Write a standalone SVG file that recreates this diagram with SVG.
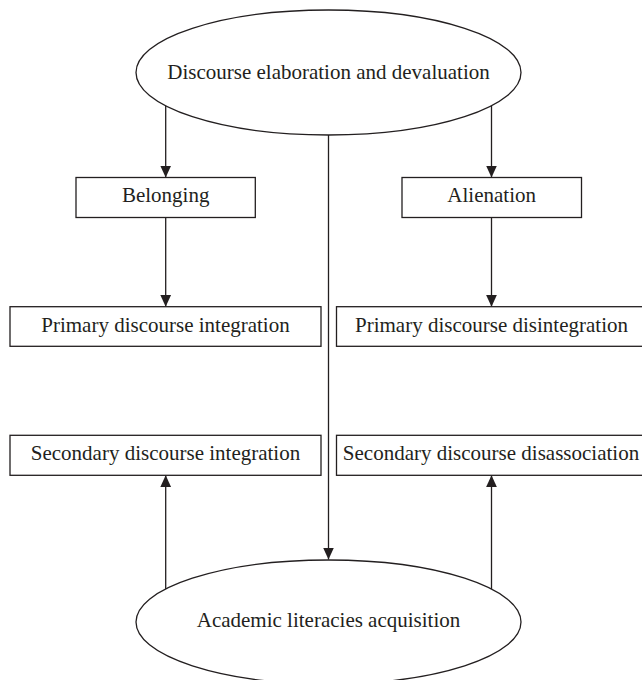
<svg xmlns="http://www.w3.org/2000/svg" width="642" height="680" viewBox="0 0 642 680">
<defs>
<style>
.shape{fill:#fff;stroke:#231f20;stroke-width:1.3}
.lbl{font-family:"Liberation Serif","Times New Roman",serif;font-size:21px;fill:#231f20;text-anchor:middle}
.conn{stroke:#231f20;stroke-width:1.3;fill:none}
</style>
<marker id="arr" viewBox="0 0 12 12" refX="12" refY="6" markerWidth="12" markerHeight="12" markerUnits="userSpaceOnUse" orient="auto">
<path d="M0,0.5 L12,6 L0,11.5 Z" fill="#231f20"/>
</marker>
</defs>
<rect width="642" height="680" fill="#fff"/>
<g id="connectors">
<line class="conn" x1="165.7" y1="105.5" x2="165.7" y2="177.5" marker-end="url(#arr)"/>
<line class="conn" x1="491.5" y1="105.5" x2="491.5" y2="177.5" marker-end="url(#arr)"/>
<line class="conn" x1="165.7" y1="217.5" x2="165.7" y2="306.7" marker-end="url(#arr)"/>
<line class="conn" x1="491.5" y1="217.5" x2="491.5" y2="306.7" marker-end="url(#arr)"/>
<line class="conn" x1="328.5" y1="135" x2="328.5" y2="559.5" marker-end="url(#arr)"/>
<line class="conn" x1="165.7" y1="589" x2="165.7" y2="475.3" marker-end="url(#arr)"/>
<line class="conn" x1="491.5" y1="589" x2="491.5" y2="475.3" marker-end="url(#arr)"/>
</g>
<g id="node-top">
<ellipse class="shape" cx="328.5" cy="72.5" rx="192.5" ry="62.5"/>
<text class="lbl" x="328.5" y="78.5">Discourse elaboration and devaluation</text>
</g>
<g id="node-belonging">
<rect class="shape" x="76" y="177.5" width="179.3" height="40"/>
<text class="lbl" x="165.7" y="202">Belonging</text>
</g>
<g id="node-alienation">
<rect class="shape" x="402" y="177.5" width="179.5" height="40"/>
<text class="lbl" x="491.7" y="202">Alienation</text>
</g>
<g id="node-primary-integration">
<rect class="shape" x="10" y="306.7" width="311" height="39.6"/>
<text class="lbl" x="165.5" y="331.7">Primary discourse integration</text>
</g>
<g id="node-primary-disintegration">
<rect class="shape" x="336.5" y="306.7" width="310" height="39.6"/>
<text class="lbl" x="491.5" y="331.7">Primary discourse disintegration</text>
</g>
<g id="node-secondary-integration">
<rect class="shape" x="10" y="435.3" width="311" height="40"/>
<text class="lbl" x="165.5" y="460">Secondary discourse integration</text>
</g>
<g id="node-secondary-disassociation">
<rect class="shape" x="336.5" y="435.3" width="310" height="40"/>
<text class="lbl" x="491" y="460">Secondary discourse disassociation</text>
</g>
<g id="node-bottom">
<ellipse class="shape" cx="328.5" cy="622" rx="192.5" ry="62"/>
<text class="lbl" x="328.5" y="627">Academic literacies acquisition</text>
</g>
</svg>
